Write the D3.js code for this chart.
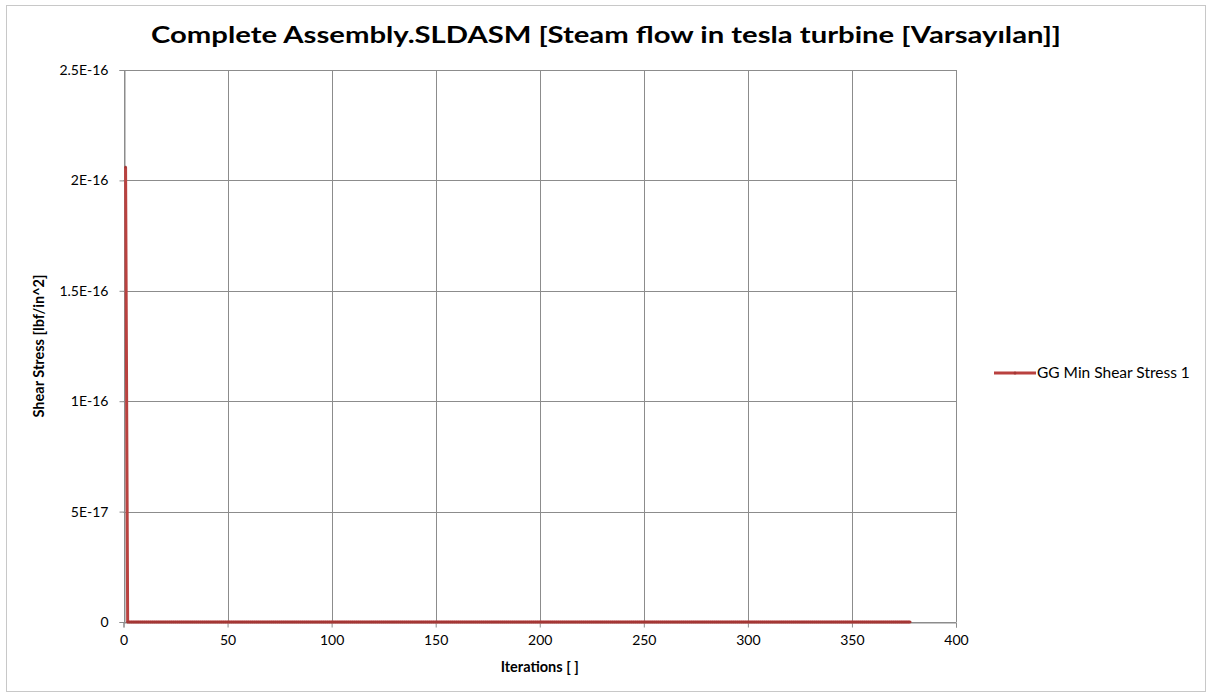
<!DOCTYPE html>
<html>
<head>
<meta charset="utf-8">
<script src="https://cdn.jsdelivr.net/npm/d3@7"></script>
<style>
  body { margin: 0; background: #fff; }
  svg { display: block; font-family: Lato, "Open Sans", sans-serif; }
</style>
</head>
<body>
<svg id="chart" width="1207" height="693"></svg>
<script>
const chartTitle = "Complete Assembly.SLDASM [Steam flow in tesla turbine [Varsayılan]]";
const xTitle = "Iterations [ ]";
const yTitle = "Shear Stress [lbf/in^2]";
const seriesName = "GG Min Shear Stress 1";

const xTicks = [0, 50, 100, 150, 200, 250, 300, 350, 400];
const yTicks = [0, 5e-17, 1e-16, 1.5e-16, 2e-16, 2.5e-16];
const yTickLabels = ["0", "5E-17", "1E-16", "1.5E-16", "2E-16", "2.5E-16"];

// first iteration number; values follow one per iteration
const firstIteration = 1;
const shearStress = [
  2.06e-16,
  0,0,0,0,0,0,0,0,0,0,0,0,0,0,0,0,0,0,0,0,0,0,0,0,0,0,0,0,0,
  0,0,0,0,0,0,0,0,0,0,0,0,0,0,0,0,0,0,0,0,0,0,0,0,0,0,0,0,0,
  0,0,0,0,0,0,0,0,0,0,0,0,0,0,0,0,0,0,0,0,0,0,0,0,0,0,0,0,0,
  0,0,0,0,0,0,0,0,0,0,0,0,0,0,0,0,0,0,0,0,0,0,0,0,0,0,0,0,0,
  0,0,0,0,0,0,0,0,0,0,0,0,0,0,0,0,0,0,0,0,0,0,0,0,0,0,0,0,0,
  0,0,0,0,0,0,0,0,0,0,0,0,0,0,0,0,0,0,0,0,0,0,0,0,0,0,0,0,0,
  0,0,0,0,0,0,0,0,0,0,0,0,0,0,0,0,0,0,0,0,0,0,0,0,0,0,0,0,0,
  0,0,0,0,0,0,0,0,0,0,0,0,0,0,0,0,0,0,0,0,0,0,0,0,0,0,0,0,0,
  0,0,0,0,0,0,0,0,0,0,0,0,0,0,0,0,0,0,0,0,0,0,0,0,0,0,0,0,0,
  0,0,0,0,0,0,0,0,0,0,0,0,0,0,0,0,0,0,0,0,0,0,0,0,0,0,0,0,0,
  0,0,0,0,0,0,0,0,0,0,0,0,0,0,0,0,0,0,0,0,0,0,0,0,0,0,0,0,0,
  0,0,0,0,0,0,0,0,0,0,0,0,0,0,0,0,0,0,0,0,0,0,0,0,0,0,0,0,0,
  0,0,0,0,0,0,0,0,0,0,0,0,0,0,0,0,0,0,0,0,0,0,0,0,0,0,0,0,0
];

const svg = d3.select("#chart");
const plot = {left: 123.5, right: 956, top: 70, bottom: 622};
const gridColor = "#8c8c8c";
const lineColor = "#b9413f";

// outer chart frame
svg.append("rect")
  .attr("x", 6.5).attr("y", 5.5)
  .attr("width", 1199).attr("height", 686)
  .attr("fill", "#fff").attr("stroke", "#c8c8c8");

const x = d3.scaleLinear().domain([0, 400]).range([plot.left, plot.right]);
const y = d3.scaleLinear().domain([0, 2.5e-16]).range([plot.bottom, plot.top]);

// gridlines
svg.append("g").selectAll("line")
  .data(xTicks).enter().append("line")
  .attr("x1", (d) => Math.round(x(d)) + 0.5).attr("x2", (d) => Math.round(x(d)) + 0.5)
  .attr("y1", plot.top).attr("y2", plot.bottom)
  .attr("stroke", gridColor);

svg.append("g").selectAll("line")
  .data(yTicks).enter().append("line")
  .attr("y1", (d) => Math.round(y(d)) + 0.5).attr("y2", (d) => Math.round(y(d)) + 0.5)
  .attr("x1", plot.left).attr("x2", plot.right)
  .attr("stroke", gridColor);

// axes
const xAxis = svg.append("g")
  .attr("transform", `translate(0,${Math.round(plot.bottom) + 0.5})`)
  .call(d3.axisBottom(x).tickValues(xTicks).tickSize(5).tickPadding(8));
const yAxis = svg.append("g")
  .attr("transform", `translate(${Math.round(plot.left) + 0.5},0)`)
  .call(d3.axisLeft(y).tickValues(yTicks).tickSize(5).tickPadding(11)
    .tickFormat((d, i) => yTickLabels[i]));

[xAxis, yAxis].forEach((a) => {
  a.select(".domain").attr("stroke", gridColor);
  a.selectAll(".tick line").attr("stroke", gridColor);
  a.selectAll(".tick text")
    .attr("font-family", "Lato, sans-serif")
    .attr("font-size", 14).attr("fill", "#000");
});

// series
const pts = shearStress.map((v, i) => [firstIteration + i, v]);
const line = d3.line().x((d) => x(d[0])).y((d) => y(d[1]));

svg.append("path")
  .datum(pts)
  .attr("fill", "none")
  .attr("stroke", lineColor)
  .attr("stroke-width", 3)
  .attr("stroke-linejoin", "round")
  .attr("d", line);

svg.append("g").selectAll("circle")
  .data(pts).enter().append("circle")
  .attr("cx", (d) => x(d[0])).attr("cy", (d) => y(d[1]))
  .attr("r", 1.3)
  .attr("fill", "#a33735");

// titles
svg.append("text")
  .attr("x", 606).attr("y", 43)
  .attr("text-anchor", "middle")
  .attr("font-size", 23).attr("font-weight", "bold")
  .attr("textLength", 910).attr("lengthAdjust", "spacingAndGlyphs")
  .text(chartTitle);

svg.append("text")
  .attr("x", (plot.left + plot.right) / 2).attr("y", 672)
  .attr("text-anchor", "middle")
  .attr("font-size", 14.5).attr("font-weight", "bold")
  .text(xTitle);

svg.append("text")
  .attr("transform", `translate(44,${(plot.top + plot.bottom) / 2}) rotate(-90)`)
  .attr("text-anchor", "middle")
  .attr("font-size", 14.5).attr("font-weight", "bold")
  .text(yTitle);

// legend
const legend = svg.append("g").attr("transform", "translate(994,373)");
legend.append("line")
  .attr("x1", 0).attr("x2", 42)
  .attr("stroke", lineColor).attr("stroke-width", 3);
legend.append("circle").attr("cx", 21).attr("r", 1.5).attr("fill", "#a33735");
legend.append("text")
  .attr("x", 43).attr("y", 5)
  .attr("font-size", 15.5)
  .text(seriesName);
</script>
</body>
</html>
